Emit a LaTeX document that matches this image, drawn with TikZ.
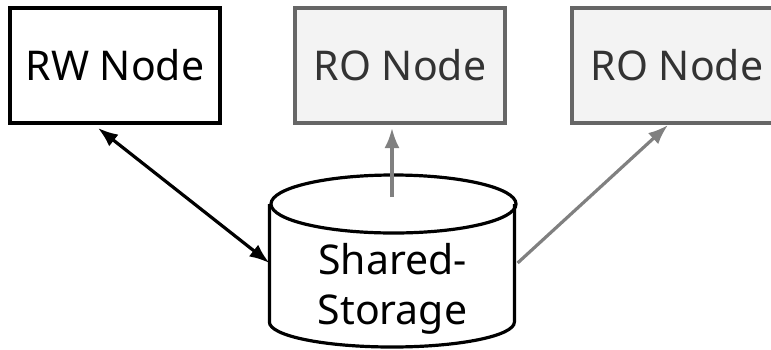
\documentclass[tikz,border=0pt]{standalone}
\usepackage{fontspec}
\setmainfont{Noto Sans}
\usepackage{tikz}
\usetikzlibrary{positioning}
\usetikzlibrary{calc}
\usetikzlibrary{arrows.meta}
\definecolor{rogray}{HTML}{666666}
\definecolor{rofill}{HTML}{F3F3F3}
\definecolor{rotext}{HTML}{333333}
\definecolor{linkgray}{HTML}{808080}
\tikzset{every picture/.style={line width=3.2pt,>={Latex[length=20pt,width=15pt]}},
  rwbox/.style={draw=black,minimum width=210pt,minimum height=115pt,font=\fontsize{41}{50}\selectfont},
  robox/.style={draw=rogray,fill=rofill,text=rotext,minimum width=210pt,minimum height=115pt,font=\fontsize{41}{50}\selectfont},
  storebox/.style={minimum width=245pt,minimum height=118pt,inner sep=0pt},
  storetext/.style={align=center,inner sep=0pt,font=\fontsize{41}{50}\selectfont},
  rolink/.style={draw=linkgray,->}}

\begin{document}
\begin{tikzpicture}[x=1pt,y=-1pt]
\useasboundingbox (0,0) rectangle (771,349);
\node (rw) at (115,65.5) [rwbox] {RW Node};
\node (ro1) at (400,65.5) [robox] {RO Node};
\node (ro2) at (677,65.5) [robox] {RO Node};
\node (store) at (393.5,263) [storebox] {};
% the drum of the storage
\draw (store.west) ++(0,-59) -- ++(0,118) arc[start angle=180,end angle=0,x radius=122.5,y radius=25] -- ++(0,-118);
\draw ($(store.center)+(0,-59)$) ellipse [x radius=122.5,y radius=29];
\node (storelabel) at ($(store.center)+(-1,26)$) [storetext] {Shared-\\Storage};
% link ends
\coordinate (rwend) at (98,128);
\coordinate (ro1start) at (392,197);
\coordinate (ro1end) at (392,128);
\coordinate (ro2end) at (668,125);
\draw[<->] (rwend) -- (store.west);
\draw[rolink] (ro1start) -- (ro1end);
\draw[rolink] (store.east) -- (ro2end);
\end{tikzpicture}
\end{document}
